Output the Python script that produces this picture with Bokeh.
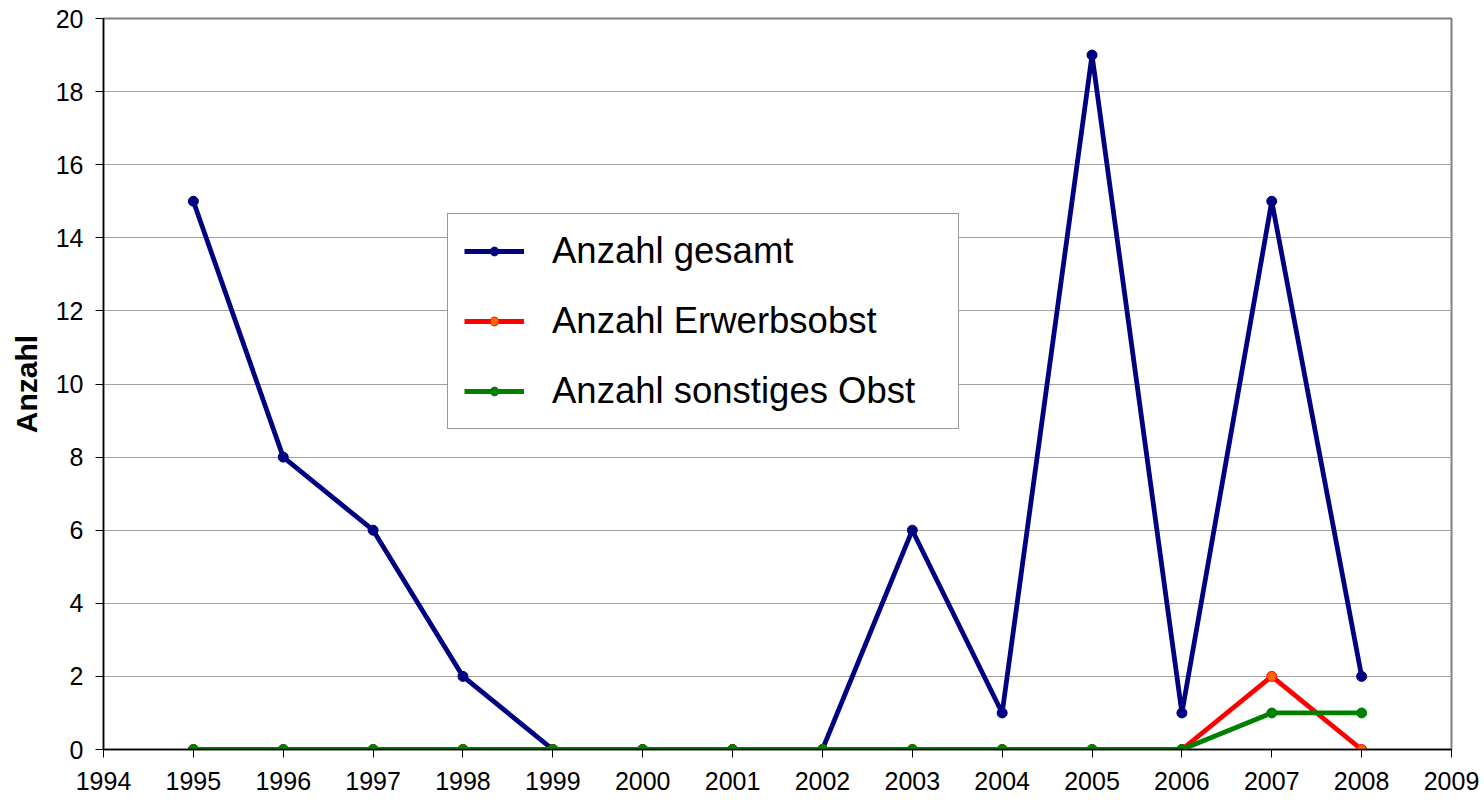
from bokeh.plotting import figure
from bokeh.models import Range1d, SingleIntervalTicker, Legend, LegendItem
from bokeh.embed import file_html
from bokeh.resources import INLINE

years = [1995, 1996, 1997, 1998, 1999, 2000, 2001, 2002, 2003, 2004, 2005, 2006, 2007, 2008]
gesamt = [15, 8, 6, 2, 0, 0, 0, 0, 6, 1, 19, 1, 15, 2]
erwerbsobst = [0, 0, 0, 0, 0, 0, 0, 0, 0, 0, 0, 0, 2, 0]
sonstiges = [0, 0, 0, 0, 0, 0, 0, 0, 0, 0, 0, 0, 1, 1]

FONT = "Liberation Sans"

p = figure(width=1484, height=800, output_backend="svg", toolbar_location=None,
           x_range=Range1d(1994, 2009), y_range=Range1d(0, 20),
           min_border_left=103, min_border_right=33, min_border_top=18, min_border_bottom=51)

p.outline_line_color = "#808080"
p.outline_line_width = 2
p.xgrid.grid_line_color = None
p.ygrid.grid_line_color = "#a0a0a0"
p.ygrid.grid_line_width = 1

p.xaxis.ticker = SingleIntervalTicker(interval=1)
p.yaxis.ticker = SingleIntervalTicker(interval=2)
for ax in (p.xaxis, p.yaxis):
    ax.axis_line_color = "black"
    ax.axis_line_width = 1.5
    ax.major_tick_line_color = "black"
    ax.major_tick_in = 0
    ax.major_tick_out = 8
    ax.minor_tick_line_color = None
    ax.major_label_text_font = FONT
    ax.major_label_text_font_size = "25px"
    ax.major_label_text_color = "black"
p.xaxis.major_label_standoff = 14
p.yaxis.major_label_standoff = 12
p.yaxis.axis_label = "Anzahl"
p.yaxis.axis_label_text_font = FONT
p.yaxis.axis_label_text_font_size = "30px"
p.yaxis.axis_label_text_font_style = "bold"
p.yaxis.axis_label_text_color = "black"
p.yaxis.axis_label_standoff = 10

series = [
    ("Anzahl gesamt", gesamt, "#000080", "#000080", "#000080"),
    ("Anzahl Erwerbsobst", erwerbsobst, "#ff0000", "#ff6600", "#ff0000"),
    ("Anzahl sonstiges Obst", sonstiges, "#008000", "#008000", "#008000"),
]
items = []
for label, vals, lc, fc, mc in series:
    r1 = p.line(years, vals, line_color=lc, line_width=4.8)
    r2 = p.scatter(years, vals, size=10, fill_color=fc, line_color=mc, line_width=1)
    items.append(LegendItem(label=label, renderers=[r1, r2]))

legend = Legend(items=items, location=(344, 320))
legend.label_text_font = FONT
legend.label_text_font_size = "36.5px"
legend.label_text_color = "black"
legend.glyph_width = 60
legend.glyph_height = 22
legend.label_height = 40
legend.label_width = 390
legend.spacing = 28
legend.padding = 16
legend.margin = 0
legend.label_standoff = 28
legend.border_line_color = "#333333"
legend.border_line_width = 1.5
legend.background_fill_color = "white"
legend.background_fill_alpha = 1
p.add_layout(legend, "center")

open("out.html", "w").write(file_html(p, INLINE))
